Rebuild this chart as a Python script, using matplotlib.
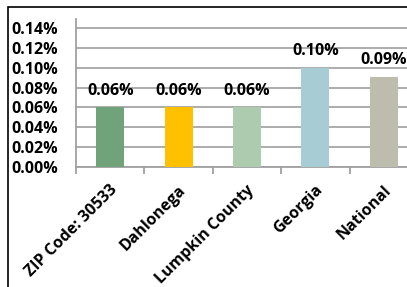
import matplotlib.pyplot as plt
from matplotlib.patches import Rectangle
from matplotlib.ticker import FuncFormatter, MultipleLocator
from matplotlib.transforms import ScaledTranslation

categories = ["ZIP Code: 30533", "Dahlonega", "Lumpkin County", "Georgia", "National"]
values = [0.06, 0.06, 0.06, 0.10, 0.091]
labels = ["0.06%", "0.06%", "0.06%", "0.10%", "0.09%"]
colors = ["#71A37A", "#FFC000", "#ADCBAE", "#A7CCD4", "#BEBCAC"]

W, H = 407, 287
fig = plt.figure(figsize=(W / 100, H / 100), dpi=100)
plt.rcParams["font.family"] = ["Open Sans", "DejaVu Sans"]

# plot area runs past the right edge of the image, as in the original crop
ax = fig.add_axes([76 / W, 1 - 167 / H, (418 - 76) / W, (167 - 19) / H])
x = range(len(categories))
ax.bar(x, values, width=0.41, color=colors, zorder=3)

for xi, v, lab in zip(x, values, labels):
    ax.annotate(lab, (xi, v), xytext=(0, 6), textcoords="offset points",
                ha="center", va="bottom", fontsize=11.5, fontweight="bold",
                annotation_clip=False)

ax.set_xlim(-0.5, 4.5)
ax.set_ylim(0, 0.149)
ax.yaxis.set_major_locator(MultipleLocator(0.02))
ax.yaxis.set_major_formatter(FuncFormatter(lambda v, p: f"{v:.2f}%"))
ax.grid(axis="y", color="#A6A6A6", lw=1.3, zorder=0)

for s in ["top", "right"]:
    ax.spines[s].set_visible(False)
for s in ["left", "bottom"]:
    ax.spines[s].set_color("#A0A0A0")
    ax.spines[s].set_linewidth(1.3)

ax.tick_params(axis="y", length=0, pad=13, labelsize=11.5)
for t in ax.get_yticklabels():
    t.set_fontweight("bold")

# category axis: tick marks at boundaries, labels at centres
ax.set_xticks([i - 0.5 for i in range(len(categories) + 1)])
ax.set_xticklabels([])
ax.tick_params(axis="x", length=5, color="#A0A0A0", width=1.3)
ax.set_xticks(list(x), minor=True)
ax.set_xticklabels(categories, minor=True, rotation=45, ha="right", va="center",
                   rotation_mode="anchor", fontsize=11.5, fontweight="bold")
ax.tick_params(axis="x", which="minor", length=0, pad=15)
shift = ScaledTranslation(5 / 100, 0, fig.dpi_scale_trans)
for t in ax.get_xticklabels(minor=True):
    t.set_transform(t.get_transform() + shift)

fig.patches.append(Rectangle((8 / W, -0.2), 1.2, 1 - 7 / H + 0.2,
                             transform=fig.transFigure, fill=False,
                             edgecolor="black", lw=1.2))

fig.savefig("out.png", dpi=100)
